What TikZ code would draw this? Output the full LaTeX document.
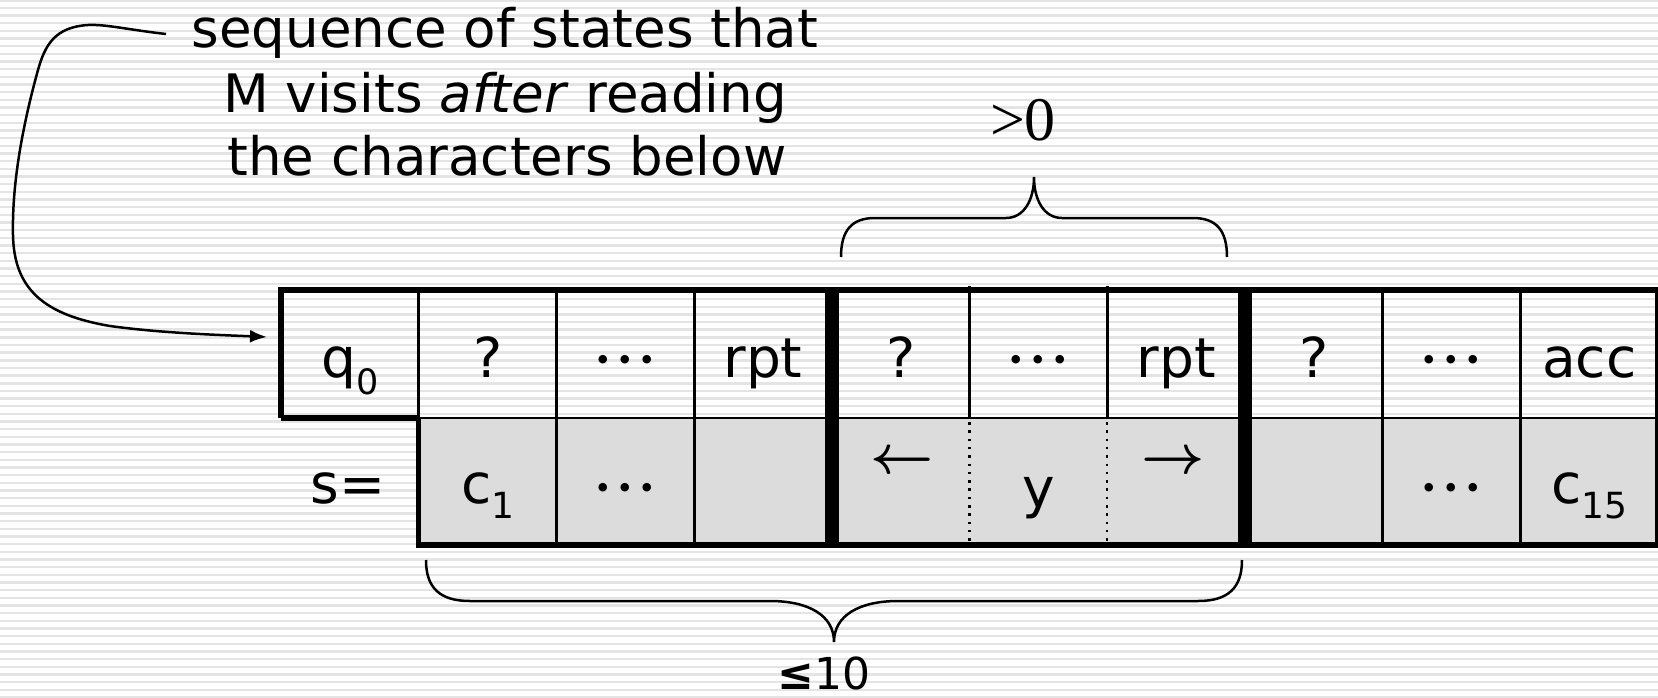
\documentclass[tikz,border=0pt]{standalone}
\usepackage{fix-cm}
\usepackage{fontspec}
\setmainfont{DejaVu Sans}
\newfontfamily\numserif{Liberation Serif}
\usetikzlibrary{arrows.meta}

\definecolor{stripe}{RGB}{228,228,228}
\definecolor{cellgray}{RGB}{220,220,220}

% subscripts set below the baseline
\newcommand\lowsub[1]{\raisebox{-15pt}{\fontsize{36}{36}\selectfont #1}}
\newcommand\qsub[1]{\raisebox{-17pt}{\fontsize{35}{35}\selectfont #1}}
% centred ellipsis used in the cells: three round dots
\newcommand\celldots{\mbox{\boldmath$\cdot$\kern4.5pt$\cdot$\kern4.5pt$\cdot$}}

\begin{document}
\begin{tikzpicture}[x=1pt,y=-1pt,
  celltext/.style={anchor=base,inner sep=0pt,font=\fontsize{55}{60}\selectfont},
  arrowtext/.style={anchor=center,inner sep=0pt,font=\fontsize{55}{60}\selectfont\boldmath},
  captext/.style={anchor=base,inner sep=0pt,font=\fontsize{53}{60}\selectfont},
  thinrule/.style={line width=2.8pt},
  thickrule/.style={line width=5.5pt},
  barrule/.style={line width=14pt},
  dotrule/.style={line width=2.5pt,dash pattern=on 2.5pt off 5.8pt},
  bracepath/.style={line width=2.5pt},
  pointer/.style={line width=2.5pt,-{Latex[length=17pt,width=13pt]}}
]
\useasboundingbox (0,0) rectangle (1658,697);

% striped backdrop
\fill[white] (0,0) rectangle (1658,697);
\foreach \i in {0,...,91}
  \draw[stripe,line width=2.4pt] (0,{0.3+7.66*\i}) -- (1658,{0.3+7.66*\i});

% column boundaries and rows
\def\Xa{281}\def\Xb{418.7}\def\Xc{556.4}\def\Xd{694.1}\def\Xe{831.8}
\def\Xf{969.5}\def\Xg{1107.2}\def\Xh{1244.9}\def\Xi{1382.6}\def\Xj{1520.3}\def\Xk{1658}
\def\Ytop{290}\def\Ymid{418}\def\Ybot{545}

% shaded input row
\fill[cellgray] (\Xb,\Ymid) rectangle (\Xk,\Ybot);

% thin cell dividers
\foreach \x in {\Xc,\Xd,\Xi,\Xj}
  \draw[thinrule] (\x,\Ytop) -- (\x,\Ybot);
\foreach \x in {\Xf,\Xg}{
  \draw[thinrule] (\x,\Ytop-4) -- (\x,\Ymid);
  \draw[dotrule] (\x,\Ymid+4) -- (\x,\Ybot);
}
\draw[thinrule] (\Xb,\Ytop) -- (\Xb,\Ymid);
\draw[thinrule] (\Xb,\Ymid) -- (\Xk,\Ymid);

% outer borders
\draw[thickrule] (\Xa,\Ymid) -- (\Xa,\Ytop) -- (\Xk,\Ytop);
\draw[thickrule] (\Xa,\Ymid) -- (\Xb,\Ymid);
\draw[thickrule] (\Xb,\Ymid) -- (\Xb,\Ybot) -- (\Xk,\Ybot);
\draw[thickrule] (\Xk,\Ytop) -- (\Xk,\Ybot);

% heavy separators between the three parts
\draw[barrule] (\Xe,\Ytop-2.75) -- (\Xe,\Ybot+2.75);
\draw[barrule] (\Xh,\Ytop-2.75) -- (\Xh,\Ybot+2.75);

% state row
\node[celltext] (t1) at (349.9,377) {q\qsub{0}};
\node[celltext] (t2) at (487.6,377) {?};
\node[celltext] (t3) at (625.3,373) {\celldots};
\node[celltext] (t4) at (763.0,377) {rpt};
\node[celltext] (t5) at (900.7,377) {?};
\node[celltext] (t6) at (1038.4,373) {\celldots};
\node[celltext] (t7) at (1176.1,377) {rpt};
\node[celltext] (t8) at (1313.8,377) {?};
\node[celltext] (t9) at (1451.5,373) {\celldots};
\node[celltext] (t10) at (1589.2,377) {acc};

% input row
\node[celltext] (slabel) at (348,503) {s=};
\node[celltext] (b2) at (487.6,503) {c\lowsub{1}};
\node[celltext] (b3) at (625.3,501) {\celldots};
\node[arrowtext] (b5) at (902,463) {$\leftarrow$};
\node[celltext] (b6) at (1038.4,507) {y};
\node[arrowtext] (b7) at (1173,463) {$\rightarrow$};
\node[celltext] (b9) at (1451.5,501) {\celldots};
\node[celltext] (b10) at (1589.2,503) {c\lowsub{15}};

% caption
\node[captext] (cap1) at (505,47) {sequence of states that};
\node[captext] (cap2) at (505,112) {M visits \textit{after} reading};
\node[captext] (cap3) at (507,175) {the characters below};

% pointer from the caption to the start state
\coordinate (capstart) at (166,34);
\coordinate (q0tip) at (267,337);
\draw[pointer] (capstart) .. controls (130,30) and (105,24) .. (88,25)
  .. controls (55,27) and (45,45) .. (38,70)
  .. controls (20,135) and (12,190) .. (13,235)
  .. controls (14,290) and (45,315) .. (110,326)
  .. controls (160,333) and (220,335) .. (q0tip);

% upper brace over the repeated block
\draw[bracepath] (841,257) .. controls (841,230) and (852,218) .. (875,218) -- (1006,218)
  .. controls (1024,218) and (1034,200) .. (1034,177)
  .. controls (1034,200) and (1044,218) .. (1062,218) -- (1193,218)
  .. controls (1216,218) and (1227,230) .. (1227,257);
\node[anchor=base,inner sep=0pt,font=\numserif\fontsize{62}{62}\selectfont] (gtzero) at (1023,140) {>0};

% lower brace under the first part
\draw[bracepath] (426,560) .. controls (426,588) and (440,601) .. (470,601) -- (770,601)
  .. controls (808,601) and (834,615) .. (834,642)
  .. controls (834,615) and (860,601) .. (898,601) -- (1198,601)
  .. controls (1228,601) and (1242,588) .. (1242,560);
\node[anchor=base,inner sep=0pt,font=\fontsize{44}{44}\selectfont] (leten) at (824,689) {{\bfseries ≤}10};
\end{tikzpicture}
\end{document}
